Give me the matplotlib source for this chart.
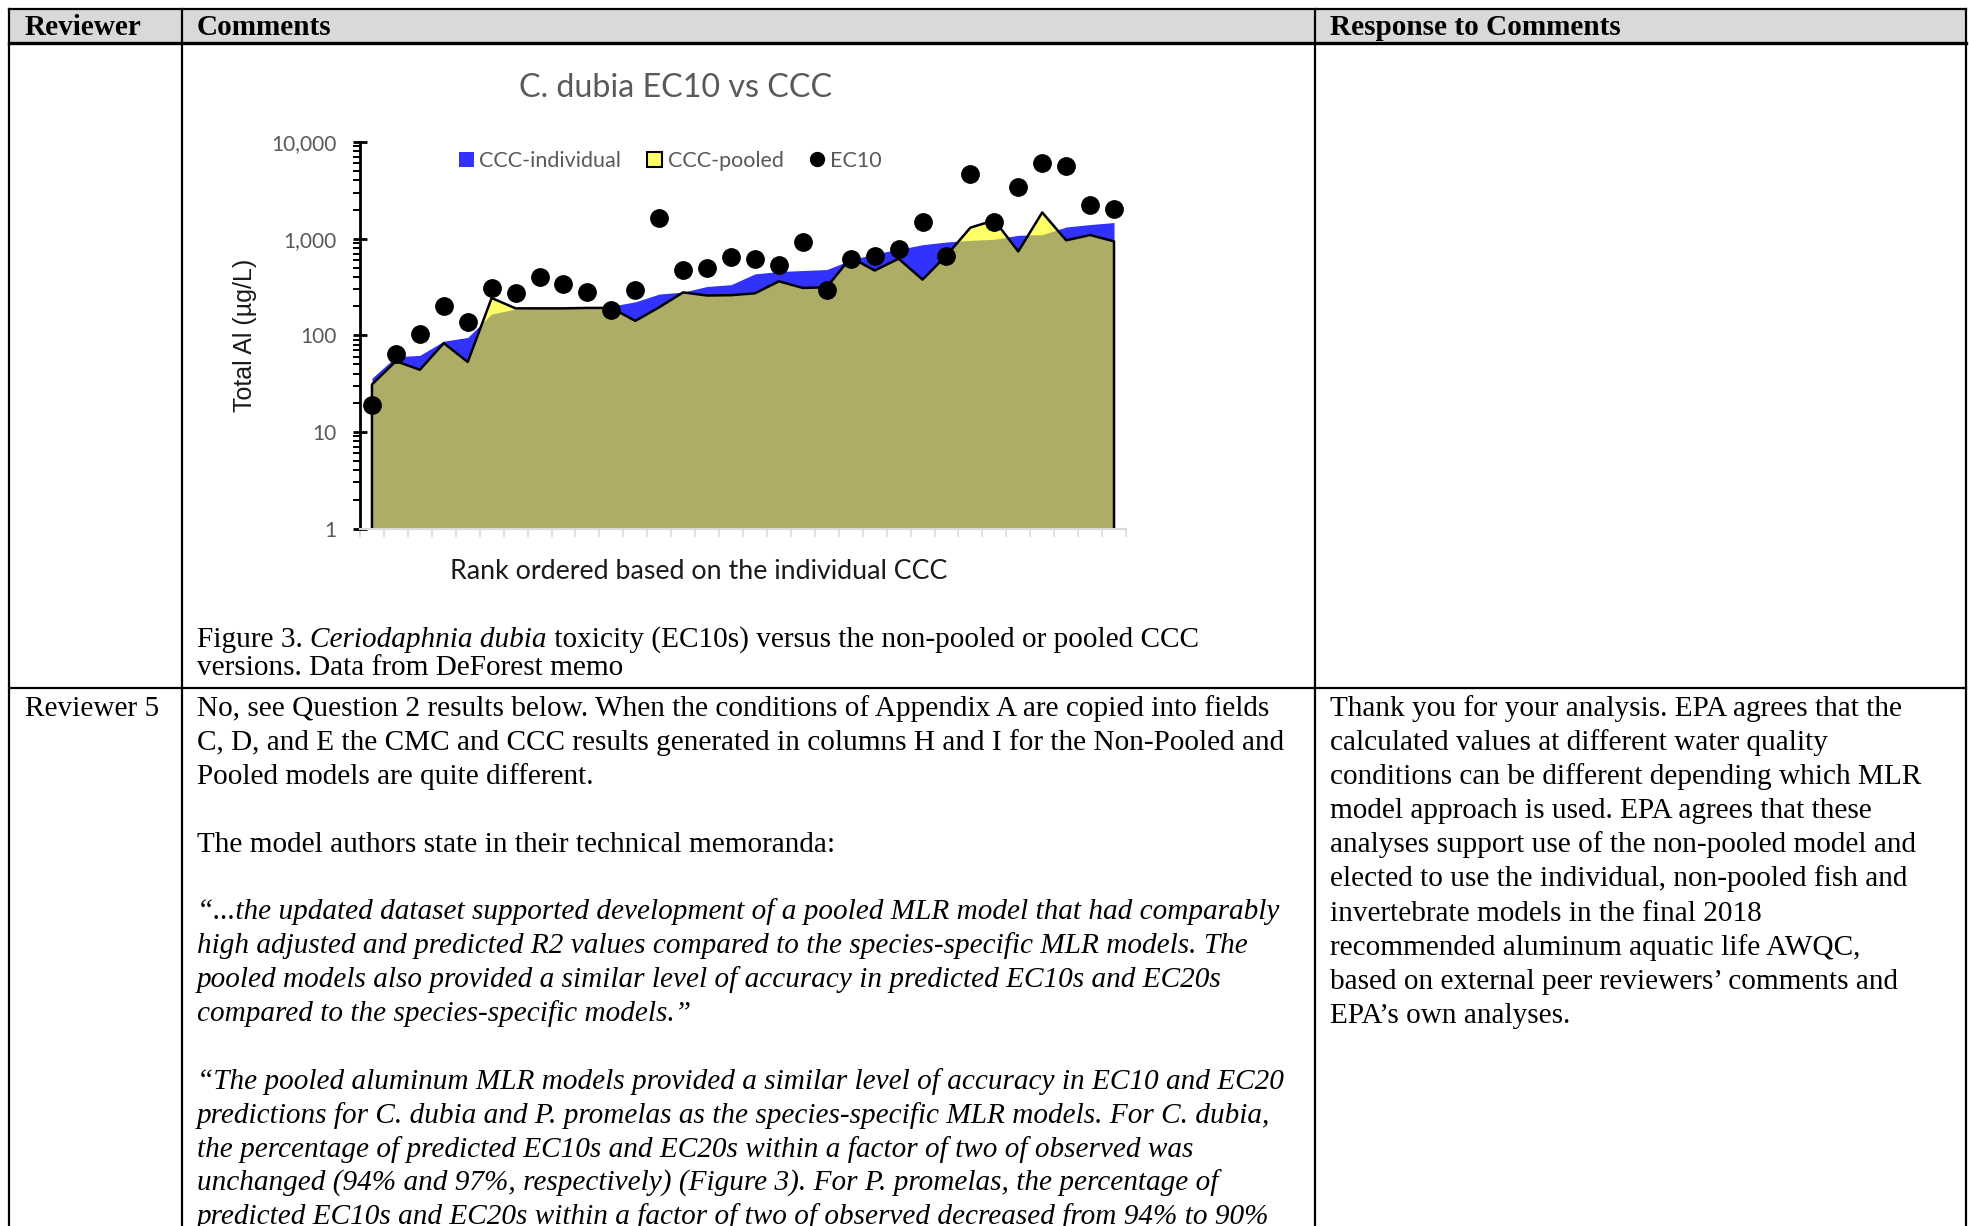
import matplotlib
matplotlib.use("Agg")
import matplotlib.pyplot as plt
import matplotlib.ticker as mticker
from matplotlib.patches import Patch, Rectangle
from matplotlib.lines import Line2D
import numpy as np

# --- chart values (Total Al, ug/L) ---
rank = np.arange(1, 33)
ec10 = [19, 64, 102, 203, 138, 310, 272, 400, 340, 278, 181, 295, 1620, 470,
        500, 650, 615, 535, 915, 292, 610, 655, 775, 1470, 665, 4700, 1500,
        3400, 6100, 5600, 2220, 2030]
ccc_pooled = [31, 54, 44, 83, 53, 243, 190, 190, 190, 192, 192, 141, 195, 278,
              258, 260, 272, 362, 309, 314, 640, 468, 620, 377, 670, 1300,
              1550, 738, 1866, 961, 1090, 938]
ccc_individual = [36, 60, 62, 87, 95, 166, 187, 190, 190, 195, 200, 222, 267,
                  280, 320, 334, 432, 457, 468, 479, 600, 698, 774, 866, 923,
                  961, 985, 1083, 1100, 1320, 1399, 1468]
y_ticks = [1, 10, 100, 1000, 10000]
series_names = ["CCC-individual", "CCC-pooled", "EC10"]

# --- table text ---
headers = ["Reviewer", "Comments", "Response to Comments"]
reviewer = "Reviewer 5"
caption = [
    [("Figure 3. ", "normal"), ("Ceriodaphnia dubia", "italic"),
     (" toxicity (EC10s) versus the non-pooled or pooled CCC", "normal")],
    [("versions. Data from DeForest memo", "normal")],
]
# (line slot, text, style)
comments = [
    (0, "No, see Question 2 results below. When the conditions of Appendix A are copied into fields", "normal"),
    (1, "C, D, and E the CMC and CCC results generated in columns H and I for the Non-Pooled and", "normal"),
    (2, "Pooled models are quite different.", "normal"),
    (4, "The model authors state in their technical memoranda:", "normal"),
    (6, "\u201c...the updated dataset supported development of a pooled MLR model that had comparably", "italic"),
    (7, "high adjusted and predicted R2 values compared to the species-specific MLR models. The", "italic"),
    (8, "pooled models also provided a similar level of accuracy in predicted EC10s and EC20s", "italic"),
    (9, "compared to the species-specific models.\u201d", "italic"),
    (11, "\u201cThe pooled aluminum MLR models provided a similar level of accuracy in EC10 and EC20", "italic"),
    (12, "predictions for C. dubia and P. promelas as the species-specific MLR models. For C. dubia,", "italic"),
    (13, "the percentage of predicted EC10s and EC20s within a factor of two of observed was", "italic"),
    (14, "unchanged (94% and 97%, respectively) (Figure 3). For P. promelas, the percentage of", "italic"),
    (15, "predicted EC10s and EC20s within a factor of two of observed decreased from 94% to 90%", "italic"),
]
response = [
    "Thank you for your analysis. EPA agrees that the",
    "calculated values at different water quality",
    "conditions can be different depending which MLR",
    "model approach is used. EPA agrees that these",
    "analyses support use of the non-pooled model and",
    "elected to use the individual, non-pooled fish and",
    "invertebrate models in the final 2018",
    "recommended aluminum aquatic life AWQC,",
    "based on external peer reviewers\u2019 comments and",
    "EPA\u2019s own analyses.",
]

W, H = 1969, 1226
SERIF = "Liberation Serif"
CHART_FONT = "Lato"
fs = 21.1

fig = plt.figure(figsize=(W / 100, H / 100), dpi=100)
page = fig.add_axes([0, 0, 1, 1])
page.set_xlim(0, W)
page.set_ylim(H, 0)
page.axis("off")
renderer = fig.canvas.get_renderer()

# table grid
page.add_patch(Rectangle((9, 9), 1957, 34, facecolor="#d9d9d9", edgecolor="none"))
page.plot([9, 1966], [9, 9], color="k", lw=1.6)
page.plot([9, 1966], [43, 43], color="k", lw=2.4)
page.plot([9, 1966], [688, 688], color="k", lw=1.6)
for xc in [9, 182, 1315, 1966]:
    page.plot([xc, xc], [9, H], color="k", lw=1.6)

# header
for xh, txt in zip([25, 197, 1330], headers):
    page.text(xh, 35, txt, fontsize=fs, family=SERIF, weight="bold", va="baseline")


def seg_width(txt, style):
    t = page.text(0, 0, txt + "|", fontsize=fs, family=SERIF, style=style)
    t2 = page.text(0, 0, "|", fontsize=fs, family=SERIF, style=style)
    w = t.get_window_extent(renderer).width - t2.get_window_extent(renderer).width
    t.remove()
    t2.remove()
    return w


def put_line(x, y, parts):
    for txt, style in parts:
        page.text(x, y, txt, fontsize=fs, family=SERIF, style=style, va="baseline")
        x += seg_width(txt, style)


# caption
for i, parts in enumerate(caption):
    put_line(197, 647 + 28 * i, parts)

# reviewer 5 row
pitch = 33.9
page.text(25, 716, reviewer, fontsize=fs, family=SERIF, va="baseline")
for slot, txt, style in comments:
    page.text(197, 716 + pitch * slot, txt, fontsize=fs, family=SERIF,
              style=style, va="baseline")
for i, txt in enumerate(response):
    page.text(1330, 716 + 34.1 * i, txt, fontsize=fs, family=SERIF, va="baseline")

# --- embedded chart ---
ax = fig.add_axes([360 / W, 1 - 528.6 / H, 766 / W, 386.6 / H])
ax.set_yscale("log")
ax.set_ylim(1, 10000)
ax.set_xlim(0.5, 32.5)
ax.patch.set_alpha(0)

ax.fill_between(rank, 1, ccc_individual, color="#3232ff", lw=0, zorder=1)
pooled_area = ax.fill_between(rank, 1, ccc_pooled, color="#ffff66", lw=0, zorder=1.1)
overlap = ax.fill_between(rank, 1, ccc_individual, color="#adad66", lw=0, zorder=1.2)
overlap.set_clip_path(pooled_area.get_paths()[0], ax.transData)
ax.plot(np.r_[rank[0], rank, rank[-1]], np.r_[1, ccc_pooled, 1],
        color="k", lw=1.8, zorder=2)
ax.plot(rank, ec10, "o", color="k", ms=12.5, zorder=3, clip_on=False)

ax.set_yticks(y_ticks)
ax.yaxis.set_major_formatter(mticker.FuncFormatter(lambda v, p: f"{v:,.0f}"))
ax.yaxis.set_minor_locator(mticker.LogLocator(base=10, subs=np.arange(2, 10)))
ax.yaxis.set_minor_formatter(mticker.NullFormatter())
ax.tick_params(axis="y", which="major", direction="inout", length=10, width=2,
               labelsize=15, labelcolor="#595959", pad=12)
ax.tick_params(axis="y", which="minor", direction="out", length=5, width=1.4)
ax.set_xticks(np.arange(0.5, 33, 1))
ax.tick_params(axis="x", direction="out", length=6, width=1.2, color="#d9d9d9",
               labelbottom=False)
for lab in ax.get_yticklabels():
    lab.set_family(CHART_FONT)
ax.spines["left"].set_linewidth(2)
ax.spines["bottom"].set_color("#d9d9d9")
ax.spines["bottom"].set_linewidth(1.5)
ax.spines["top"].set_visible(False)
ax.spines["right"].set_visible(False)

ax.text(0.4125, 1.14, "C. dubia EC10 vs CCC", transform=ax.transAxes,
        ha="center", va="center", fontsize=23.2, color="#595959", family=CHART_FONT)
ax.text(0.4426, -0.11, "Rank ordered based on the individual CCC",
        transform=ax.transAxes, ha="center", va="center", fontsize=19.3,
        color="#1a1a1a", family=CHART_FONT)
ax.text(-0.15, 0.5, "Total Al (\u00b5g/L)", transform=ax.transAxes,
        rotation=90, ha="center", va="center", fontsize=18, color="#1a1a1a",
        family="Liberation Sans")

handles = [
    Patch(facecolor="#3232ff", edgecolor="none"),
    Patch(facecolor="#ffff66", edgecolor="k", linewidth=1.5),
    Line2D([], [], marker="o", color="k", linestyle="none", markersize=10),
]
ax.legend(handles, series_names, loc="center", bbox_to_anchor=(0.405, 0.951),
          ncol=3, frameon=False, handlelength=0.7, handleheight=0.7,
          handletextpad=0.25, columnspacing=1.2,
          prop={"family": CHART_FONT, "size": 15.5}, labelcolor="#595959")

fig.savefig("out.png", dpi=100)
